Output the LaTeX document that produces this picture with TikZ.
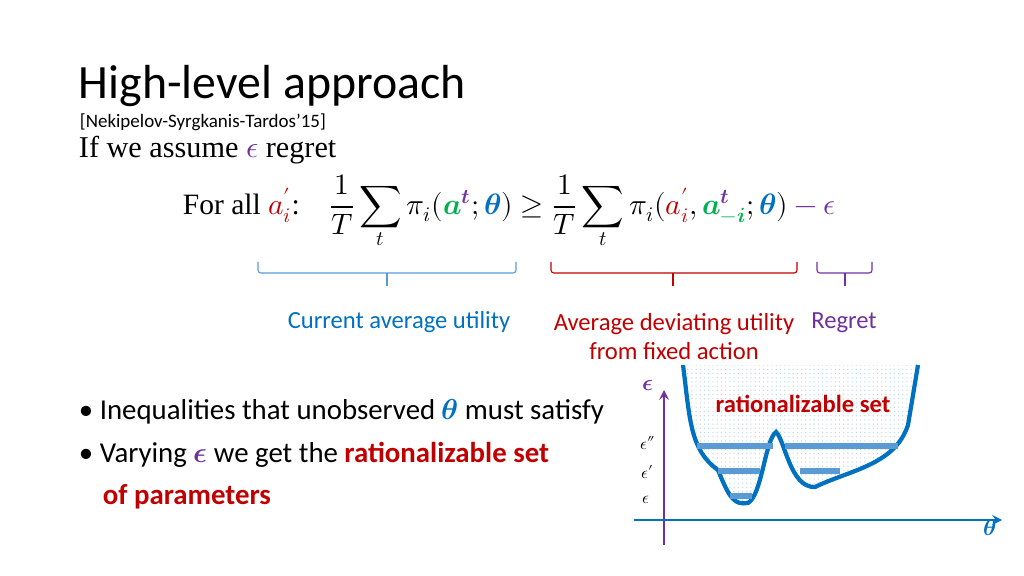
\documentclass[tikz,border=0pt]{standalone}
\usepackage{fontspec}
\usepackage{unicode-math}
\setmainfont{Carlito}
\newfontfamily\serifs{Liberation Serif}
\setmathfont{Latin Modern Math}
\usetikzlibrary{positioning, patterns}
\definecolor{ublue}{RGB}{0,112,192}
\definecolor{ured}{RGB}{192,0,0}
\definecolor{upurple}{RGB}{112,48,160}
\definecolor{ugreen}{RGB}{0,176,80}
\definecolor{lblue}{RGB}{91,155,213}
\tikzset{
  brace/.style={thick, rounded corners=2pt},
  level/.style={line width=4pt, lblue},
  lbl/.style={font=\fontsize{17.5}{21}\selectfont, anchor=north, align=center},
  body/.style={font=\fontsize{20.5}{24}\selectfont, anchor=west}
}
\begin{document}
\begin{tikzpicture}[x=0.025cm, y=-0.025cm]
\useasboundingbox (0,0) rectangle (1024,576);
% heading
\node (title) [anchor=west, font=\fontsize{34}{38}\selectfont] at (74,86) {High-level approach};
\node (cite) [anchor=west, font=\fontsize{13.5}{15}\selectfont] at (75,122) {[Nekipelov-Syrgkanis-Tardos’15]};
\node (assume) [anchor=west, font=\serifs\fontsize{21.5}{24}\selectfont] at (74,150) {If we assume \textcolor{upurple}{$\epsilon$} regret};
% inequality
\node (ineq) [anchor=west, font=\fontsize{21}{24}\selectfont] at (178,212) {\serifs For all \textcolor{ured}{$a_i'$}:\quad
  $\displaystyle \frac{1}{T}\sum_t \pi_i(\textcolor{ugreen}{\symbfit{a}^{\textcolor{upurple}{\symbfit{t}}}};\textcolor{ublue}{\symbfit{\theta}})
  \geq \frac{1}{T}\sum_t \pi_i(\textcolor{ured}{a_i'},\textcolor{ugreen}{\symbfit{a}^{\textcolor{upurple}{\symbfit{t}}}_{-\symbfit{i}}};\textcolor{ublue}{\symbfit{\theta}})
  \textcolor{upurple}{{}-\epsilon}$};
% braces
\draw [brace, lblue] (258,262) -- (258,273) -- (516,273) -- (516,262);
\draw [brace, lblue] (387,273) -- (387,286);
\draw [brace, ured] (551,262) -- (551,273) -- (797,273) -- (797,262);
\draw [brace, ured] (673,273) -- (673,286);
\draw [brace, upurple] (817,262) -- (817,273) -- (872,273) -- (872,262);
\draw [brace, upurple] (845,273) -- (845,286);
\node (cur) [lbl, ublue] at (399,306) {Current average utility};
\node (dev) [lbl, ured] at (674,308) {Average deviating utility\\from fixed action};
\node (reg) [lbl, upurple] at (844,308) {Regret};
% bullets
\node (b1) [body] at (74,412) {\textbullet\ Inequalities that unobserved \textcolor{ublue}{$\symbfit{\theta}$} must satisfy};
\node (b2) [body] at (74,455) {\textbullet\ Varying \textcolor{upurple}{$\symbfit{\epsilon}$} we get the \textcolor{ured}{\textbf{rationalizable set}}};
\node (b3) [body, ured] at (98,497) {\textbf{of parameters}};
% plot
\fill [pattern=dots, pattern color=lblue!40]
  (683,365) .. controls (690,420) and (690,450) .. (718,470)
  .. controls (730,500) and (735,505) .. (748,503)
  .. controls (762,495) and (765,440) .. (776,432)
  .. controls (785,440) and (790,488) .. (815,487)
  .. controls (850,470) and (895,465) .. (908,425)
  -- (918,365) -- cycle;
\draw [ublue, line width=3pt]
  (683,365) .. controls (690,420) and (690,450) .. (718,470)
  .. controls (730,500) and (735,505) .. (748,503)
  .. controls (762,495) and (765,440) .. (776,432)
  .. controls (785,440) and (790,488) .. (815,487)
  .. controls (850,470) and (895,465) .. (908,425)
  -- (918,365);
\draw [level] (697,446) -- (773,446);
\draw [level] (785,446) -- (898,446);
\draw [level] (718,471) -- (760,471);
\draw [level] (800,471) -- (840,471);
\draw [level] (730,496) -- (752,496);
\coordinate (ybot) at (664,545);
\coordinate (ytop) at (664,390);
\coordinate (xl) at (634,520);
\coordinate (xr) at (1002,520);
\draw [upurple, line width=2pt, -stealth] (ybot) -- (ytop);
\draw [ublue, line width=2pt, -stealth] (xl) -- (xr);
\node (eps) [upurple, font=\fontsize{16}{18}\selectfont] at (648,386) {$\symbfit{\epsilon}$};
\node (thet) [ublue, font=\fontsize{16}{18}\selectfont] at (990,528) {$\symbfit{\theta}$};
\node (e2) [font=\fontsize{12}{13}\selectfont] at (648,443) {$\epsilon''$};
\node (e1) [font=\fontsize{12}{13}\selectfont] at (648,472) {$\epsilon'$};
\node (e0) [font=\fontsize{12}{13}\selectfont] at (646,500) {$\epsilon$};
\node (rset) [ured, font=\bfseries\fontsize{17.5}{20}\selectfont] at (803,404) {rationalizable set};
\end{tikzpicture}
\end{document}
